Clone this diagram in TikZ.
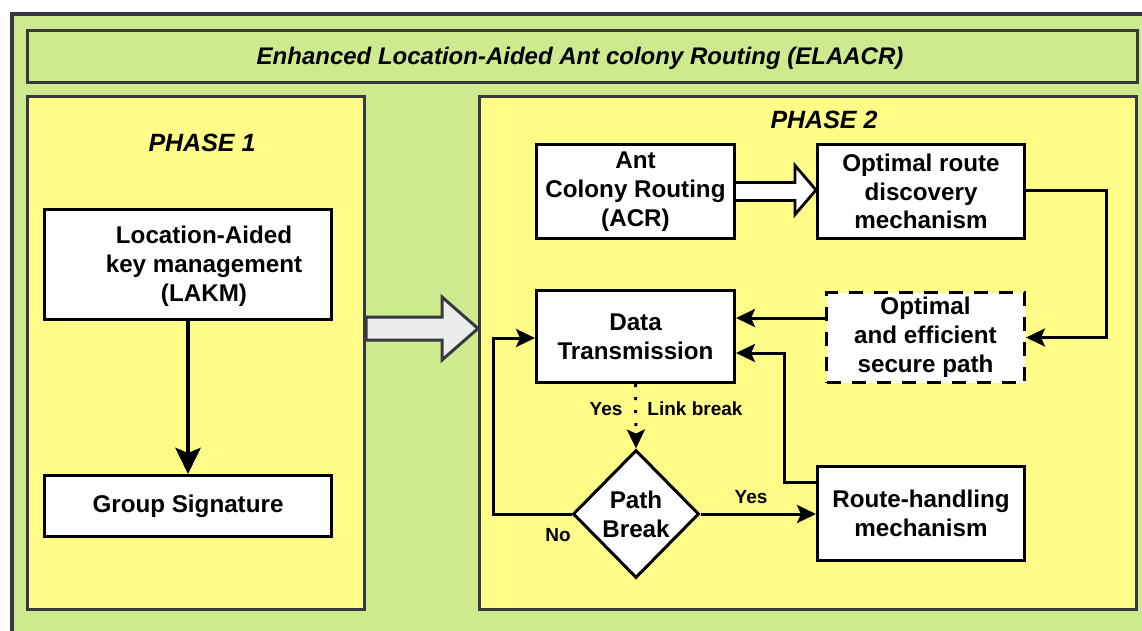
\documentclass[tikz,border=0pt]{standalone}
\usepackage{fontspec}
\setmainfont{Liberation Sans}
\usetikzlibrary{arrows.meta,shapes.geometric,calc}

\definecolor{pgreen}{RGB}{206,234,142}
\definecolor{pyellow}{RGB}{255,252,136}
\definecolor{frame}{RGB}{54,57,61}
\definecolor{arrowfill}{RGB}{236,236,236}

\begin{document}
\begin{tikzpicture}[x=1pt,y=-1pt,
  every node/.style={font=\bfseries\fontsize{24.2}{28.8}\selectfont, text=black},
  box/.style={draw=black, line width=3pt, fill=white, inner sep=0pt, align=center},
  panel/.style={draw=frame, line width=3pt, inner sep=0pt},
  conn/.style={draw=black, line width=3pt, -{Stealth[length=19pt,width=18pt,inset=4pt]}},
  dotconn/.style={conn, dash pattern=on 3pt off 10pt},
  lbl/.style={font=\bfseries\fontsize{19}{22}\selectfont, inner sep=0pt},
  heading/.style={font=\bfseries\itshape\fontsize{24}{28}\selectfont, inner sep=0pt},
]
\useasboundingbox (0,0) rectangle (1142,630);
\clip (0,0) rectangle (1142,630);

% outer frame
\draw[draw=frame, line width=4pt, fill=pgreen] (12,14) rectangle (1180,670);

% title bar and the two phase panels
\node[panel, fill=pgreen, minimum width=1110pt, minimum height=52pt] (title) at (582.5,56.5) {};
\node[heading] (titletext) at (580,58) {Enhanced Location-Aided Ant colony Routing (ELAACR)};
\node[panel, fill=pyellow, minimum width=337pt, minimum height=513pt] (p1) at (196,352.5) {};
\node[panel, fill=pyellow, minimum width=657pt, minimum height=513pt] (p2) at (808,352.5) {};
\node[heading, font=\bfseries\itshape\fontsize{25}{28}\selectfont] (ph1) at (202,143) {PHASE 1};
\node[heading, font=\bfseries\itshape\fontsize{25}{28}\selectfont] (ph2) at (824,120) {PHASE 2};

% phase 1 content
\node[box, minimum width=287pt, minimum height=110pt] (lakm) at (188,264.5) {};
\node[align=center, inner sep=0pt] (lakmtext) at (204,266) {Location-Aided\\key management\\(LAKM)};
\node[box, minimum width=287pt, minimum height=61pt] (gs) at (188,506) {Group Signature};
\draw[line width=4.5pt, -{Stealth[length=26pt,width=25pt,inset=5pt]}] (lakm) -- (gs);

% hand-over arrow from phase 1 to phase 2
\draw[draw=frame, line width=3pt, fill=arrowfill, line join=miter]
  (366,317) -- (442,317) -- (442,297) -- (478,328.5) -- (442,360) -- (442,340) -- (366,340) -- cycle;

% phase 2 content
\node[box, minimum width=198pt, minimum height=94pt] (acr) at (635.5,191.5) {Ant\\Colony Routing\\(ACR)};
\node[box, minimum width=207pt, minimum height=94pt] (opt) at (921,191.5) {Optimal route\\discovery\\mechanism};
\node[box, minimum width=198pt, minimum height=92pt] (dt) at (635.5,336.5) {Data\\Transmission};
\node[box, dash pattern=on 14pt off 11pt, minimum width=198pt, minimum height=90pt] (sec) at (925.5,337.5) {Optimal\\and efficient\\secure path};
\node[box, minimum width=207pt, minimum height=94pt] (rh) at (921,513.5) {Route-handling\\mechanism};
\node[box, shape=diamond, aspect=1, minimum width=126pt, minimum height=128pt] (pb) at (636,514) {Path\\Break};

% hollow arrow from ACR to route discovery
\draw[black, line width=2.8pt, fill=white, line join=miter]
  ($(acr.east)+(0,-9)$) -- ($(opt.west)+(-21,-9)$) -- ($(opt.west)+(-21,-26)$)
  -- ($(opt.west)+(0,-1.5)$) -- ($(opt.west)+(-21,23)$) -- ($(opt.west)+(-21,9)$)
  -- ($(acr.east)+(0,9)$);

% connectors
\draw[conn] ([yshift=1.5pt]opt.east) -- ++(80,0) |- (sec.east);
\draw[conn] ([yshift=19.5pt]sec.west) coordinate (sw) -- (sw -| dt.east);
\draw[conn] ([yshift=31.5pt]rh.west) -- ++(-32,0) |- ([yshift=-16.5pt]dt.east);
\draw[dotconn] (dt.south) -- (pb.north);
\draw[conn] (pb.east) -- (pb.east -| rh.west);
\draw[conn] (pb.west) -- ++(-78,0) |- ([yshift=-1.5pt]dt.west);

% branch labels
\node[lbl] (lyes1) at (606,409) {Yes};
\node[lbl] (llink) at (695,409) {Link break};
\node[lbl] (lyes2) at (751,497) {Yes};
\node[lbl] (lno) at (558,535) {No};
\end{tikzpicture}
\end{document}
